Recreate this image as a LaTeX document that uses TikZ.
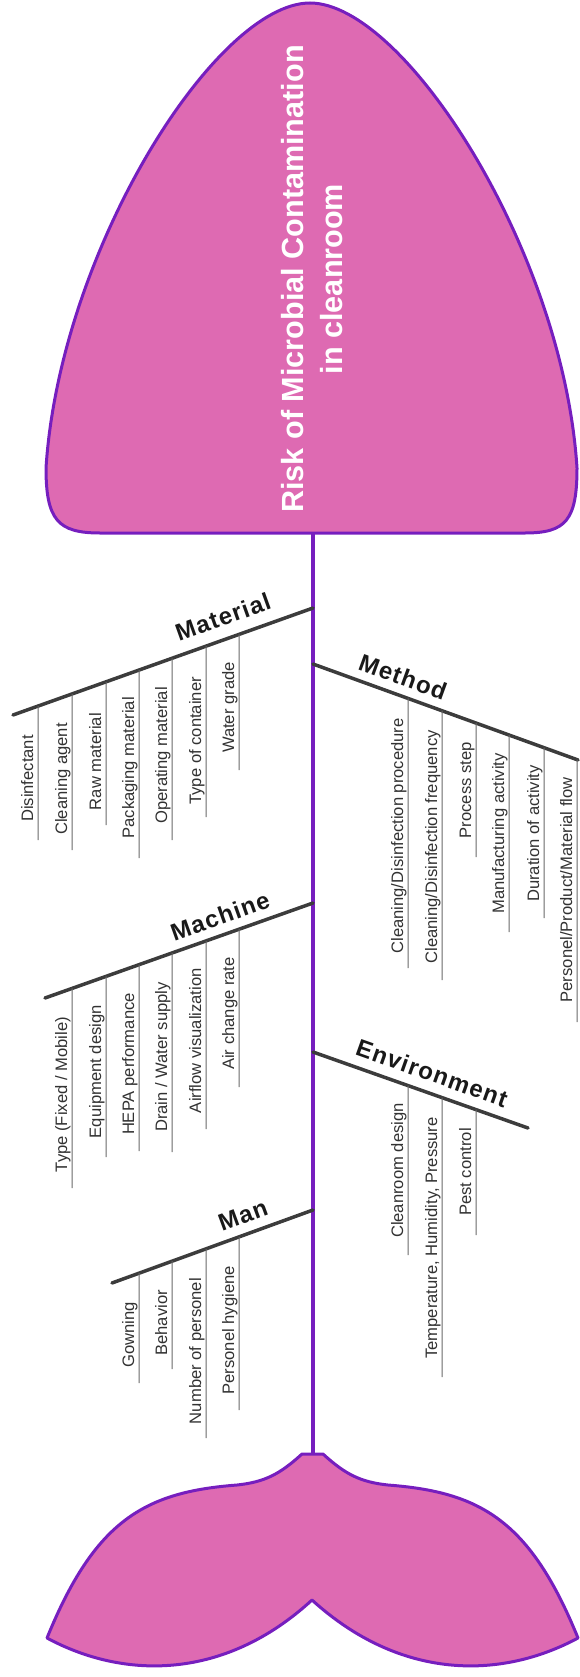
\documentclass[tikz,border=0pt]{standalone}
\usepackage{fontspec}
\setmainfont{Liberation Sans}
\newfontfamily\labfont[LetterSpace=5]{Liberation Sans Bold}
\usetikzlibrary{calc}
\definecolor{fishpink}{RGB}{222,106,178}
\definecolor{fishpurple}{RGB}{118,30,190}
\definecolor{bonegray}{RGB}{60,60,60}
\definecolor{itemgray}{RGB}{50,50,50}
\definecolor{subgray}{RGB}{105,105,105}
\definecolor{labelblack}{RGB}{25,25,25}
\tikzset{
  fish/.style={fill=fishpink, draw=fishpurple, line width=3pt, line join=round},
  spine/.style={draw=fishpurple, line width=4pt},
  bone/.style={draw=bonegray, line width=3.5pt, line cap=round},
  subline/.style={draw=subgray, line width=1pt},
  itemtext/.style={rotate=90, anchor=base east, inner sep=0pt, text=itemgray,
    font=\fontsize{16.6}{20}\selectfont},
  branchlabel/.style={text=labelblack, inner sep=0pt,
    font=\labfont\fontsize{24}{28}\selectfont},
  titletext/.style={rotate=90, align=center, text=white, inner sep=0pt,
    font=\bfseries\fontsize{30.6}{39}\selectfont}
}
% #1 name, #2 branch start, #3 branch end, #4 x start, #5 x end, #6 x, #7 text top, #8 line end, #9 text
\newcommand\cause[9]{%
  \pgfmathsetmacro\brfrac{(#6-#4)/(#5-#4)}%
  \coordinate (#1t) at ($(#2)!\brfrac!(#3)$);
  \coordinate (#1b) at (#6,#8);
  \draw[subline] (#1t) -- (#1b);
  \node[itemtext] (#1) at (#6-5,#7) {#9};
}
\begin{document}
\begin{tikzpicture}[x=1pt,y=-1pt]
\useasboundingbox (0,0) rectangle (579,1677);

% spine
\coordinate (spinetop) at (313,533);
\coordinate (spinebot) at (313,1454);
\draw[spine] (spinetop) -- (spinebot);

% head
\draw[fish] (100,533) -- (525,533)
  .. controls (566,533) and (577,520) .. (577,468)
  .. controls (563,250) and (404,3) .. (310,3)
  .. controls (216,3) and (60,250) .. (46,468)
  .. controls (46,520) and (58,533) .. (100,533) -- cycle;
\node[titletext] (title) at (312,279) {Risk of Microbial Contamination\\in cleanroom};

% tail
\draw[fish] (302,1454) -- (323,1454)
  .. controls (345,1474) and (360,1482) .. (388,1485)
  .. controls (480,1492) and (530,1520) .. (578,1638)
  .. controls (500,1680) and (400,1680) .. (312,1600)
  .. controls (225,1680) and (125,1680) .. (47,1638)
  .. controls (95,1520) and (145,1492) .. (237,1485)
  .. controls (265,1482) and (280,1474) .. (302,1454) -- cycle;

% Material
\coordinate (matS) at (313,608);
\coordinate (matE) at (13,715);
\draw[bone] (matS) -- (matE);
\node[branchlabel, rotate=19.7] (material) at (223,617) {Material};
\cause{m1}{matS}{matE}{313}{13}{38}{735}{840}{Disinfectant}
\cause{m2}{matS}{matE}{313}{13}{72}{723}{850}{Cleaning agent}
\cause{m3}{matS}{matE}{313}{13}{106}{713}{825}{Raw material}
\cause{m4}{matS}{matE}{313}{13}{139}{697}{858}{Packaging material}
\cause{m5}{matS}{matE}{313}{13}{172}{687}{840}{Operating material}
\cause{m6}{matS}{matE}{313}{13}{206}{677}{817}{Type of container}
\cause{m7}{matS}{matE}{313}{13}{239}{662}{770}{Water grade}

% Machine
\coordinate (macS) at (313,903);
\coordinate (macE) at (45,998);
\draw[bone] (macS) -- (macE);
\node[branchlabel, rotate=19.6] (machine) at (220,916) {Machine};
\cause{c1}{macS}{macE}{313}{45}{72}{1017}{1188}{Type (Fixed / Mobile)}
\cause{c2}{macS}{macE}{313}{45}{106}{1005}{1157}{Equipment design}
\cause{c3}{macS}{macE}{313}{45}{139}{993}{1151}{HEPA performance}
\cause{c4}{macS}{macE}{313}{45}{172}{982}{1152}{Drain / Water supply}
\cause{c5}{macS}{macE}{313}{45}{206}{968}{1129}{Airflow visualization}
\cause{c6}{macS}{macE}{313}{45}{239}{957}{1087}{Air change rate}

% Man
\coordinate (manS) at (313,1210);
\coordinate (manE) at (112,1283);
\draw[bone] (manS) -- (manE);
\node[branchlabel, rotate=20.2] (man) at (243,1215) {Man};
\cause{n1}{manS}{manE}{313}{112}{139}{1302}{1383}{Gowning}
\cause{n2}{manS}{manE}{313}{112}{172}{1290}{1369}{Behavior}
\cause{n3}{manS}{manE}{313}{112}{206}{1278}{1438}{Number of personel}
\cause{n4}{manS}{manE}{313}{112}{239}{1266}{1410}{Personel hygiene}

% Method
\coordinate (metS) at (313,664);
\coordinate (metE) at (578,760);
\draw[bone] (metS) -- (metE);
\node[branchlabel, rotate=-20] (method) at (403,677) {Method};
\cause{t1}{metS}{metE}{313}{578}{408}{718}{968}{Cleaning/Disinfection procedure}
\cause{t2}{metS}{metE}{313}{578}{442}{730}{980}{Cleaning/Disinfection frequency}
\cause{t3}{metS}{metE}{313}{578}{476}{742}{857}{Process step}
\cause{t4}{metS}{metE}{313}{578}{509}{753}{932}{Manufacturing activity}
\cause{t5}{metS}{metE}{313}{578}{544}{765}{918}{Duration of activity}
\cause{t6}{metS}{metE}{313}{578}{577}{777}{1022}{Personel/Product/Material flow}

% Environment
\coordinate (envS) at (313,1052);
\coordinate (envE) at (528,1128);
\draw[bone] (envS) -- (envE);
\node[branchlabel, rotate=-19.6] (environment) at (432,1073) {Environment};
\cause{e1}{envS}{envE}{313}{528}{408}{1103}{1255}{Cleanroom design}
\cause{e2}{envS}{envE}{313}{528}{442}{1117}{1377}{Temperature, Humidity, Pressure}
\cause{e3}{envS}{envE}{313}{528}{476}{1128}{1235}{Pest control}
\end{tikzpicture}
\end{document}
